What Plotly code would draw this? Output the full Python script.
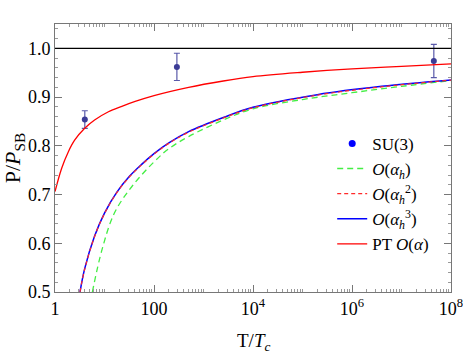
import numpy as np
import plotly.graph_objects as go

# lattice SU(3) points
su3_t = [4.0, 290.0, 4.5e7]
su3_p = [0.854, 0.962, 0.974]
su3_err = [0.018, 0.028, 0.034]

# curves (log10 T/Tc, P/P_SB)
pt_logt = [0.0, 0.135, 0.27, 0.4, 0.6, 0.8, 1.08, 1.35, 1.62, 2.0, 2.7, 3.4, 4.0, 5.0, 6.0, 7.0, 8.0]
pt_p = [0.706, 0.754, 0.788, 0.812, 0.836, 0.853, 0.870, 0.881, 0.891, 0.903, 0.920,
        0.933, 0.942, 0.951, 0.958, 0.963, 0.968]

h3_logt = [0.505, 0.6, 0.8, 1.0, 1.25, 1.5, 1.75, 2.0, 2.3, 2.7, 3.4, 4.0, 5.3, 6.6, 8.0]
h3_p = [0.50, 0.548, 0.615, 0.662, 0.705, 0.737, 0.762, 0.784, 0.806, 0.829, 0.858,
        0.879, 0.905, 0.922, 0.935]

h2_logt = [0.505, 0.6, 0.8, 1.0, 1.25, 1.5, 1.75, 2.0, 2.3, 2.7, 3.4, 4.0, 5.3, 6.6, 8.0]
h2_p = [0.50, 0.547, 0.614, 0.661, 0.704, 0.736, 0.761, 0.783, 0.805, 0.828, 0.857,
        0.878, 0.904, 0.921, 0.935]

h1_logt = [0.755, 0.95, 1.2, 1.55, 2.0, 2.3, 2.7, 3.4, 4.0, 5.0, 6.0, 7.0, 8.0]
h1_p = [0.50, 0.587, 0.662, 0.716, 0.767, 0.794, 0.819, 0.853, 0.876, 0.895, 0.909,
        0.922, 0.934]

xtick_vals = [1, 100, 1e4, 1e6, 1e8]
xtick_text = ["1", "100", "10<sup>4</sup>", "10<sup>6</sup>", "10<sup>8</sup>"]

FONT = "Liberation Serif"

fig = go.Figure()

fig.add_trace(go.Scatter(
    x=su3_t, y=su3_p, mode="markers", showlegend=False,
    marker=dict(color="#3c3c96", size=6),
    error_y=dict(type="data", array=su3_err, color="#5a5aaa", thickness=1.2, width=3),
))
# legend-only entry with the pure blue dot
fig.add_trace(go.Scatter(
    x=[None], y=[None], mode="markers", name="SU(3)", legendrank=1,
    marker=dict(color="#0000ff", size=7),
))
fig.add_trace(go.Scatter(
    x=10 ** np.array(h1_logt), y=h1_p, mode="lines", line_shape="spline",
    name="<i>O</i>(<i>α<sub>h</sub></i>)", legendrank=2,
    line=dict(color="#44ee44", width=1.3, dash="6px,4px"),
))
fig.add_trace(go.Scatter(
    x=10 ** np.array(h3_logt), y=h3_p, mode="lines", line_shape="spline",
    name="<i>O</i>(<i>α<sub>h</sub></i><sup>3</sup>)", legendrank=4,
    line=dict(color="#0000ff", width=1.5),
))
fig.add_trace(go.Scatter(
    x=10 ** np.array(h2_logt), y=h2_p, mode="lines", line_shape="spline",
    name="<i>O</i>(<i>α<sub>h</sub></i><sup>2</sup>)", legendrank=3,
    line=dict(color="#ff2a2a", width=1.2, dash="4px,3px"),
))
fig.add_trace(go.Scatter(
    x=10 ** np.array(pt_logt), y=pt_p, mode="lines", line_shape="spline",
    name="PT <i>O</i>(<i>α</i>)", legendrank=5,
    line=dict(color="#ff0000", width=1.3),
))

fig.add_hline(y=1.0, line=dict(color="black", width=1.2))

# x title as an annotation so it can sit lower, as in the original
fig.add_annotation(
    text="T/<i>T</i><sub><i>c</i></sub>", xref="paper", yref="paper",
    x=0.5, y=-0.185, xanchor="center", yanchor="middle", showarrow=False,
    font=dict(family=FONT, size=19, color="black"),
)

fig.update_layout(
    width=463, height=354,
    margin=dict(l=55, r=12, t=24, b=62, autoexpand=False),
    plot_bgcolor="white", paper_bgcolor="white",
    font=dict(family=FONT, size=18, color="black"),
    legend=dict(
        x=0.70, y=0.62, xanchor="left", yanchor="top",
        bgcolor="rgba(0,0,0,0)", font=dict(size=17),
        itemwidth=30, tracegroupgap=0,
    ),
)
fig.update_xaxes(
    type="log", range=[0, 8], automargin=False, ticklabeloverflow="allow",
    tickvals=xtick_vals, ticktext=xtick_text,
    ticks="inside", ticklen=7, tickcolor="#777",
    minor=dict(dtick="D1", ticks="inside", ticklen=3, tickcolor="#999"),
    showline=True, linecolor="#777", linewidth=1, mirror="allticks",
    showgrid=False, zeroline=False,
)
fig.update_yaxes(
    range=[0.5, 1.05], automargin=False, ticklabeloverflow="allow",
    tickvals=[0.5, 0.6, 0.7, 0.8, 0.9, 1.0],
    ticktext=["0.5", "0.6", "0.7", "0.8", "0.9", "1.0"],
    ticks="inside", ticklen=7, tickcolor="#777",
    minor=dict(dtick=0.02, ticks="inside", ticklen=3, tickcolor="#999"),
    showline=True, linecolor="#777", linewidth=1, mirror="allticks",
    showgrid=False, zeroline=False,
    title=dict(text="P/<i>P</i><sub>SB</sub>", standoff=4),
)

# drop the browser's default body margin so the figure sits at the window corner
fig.write_html(
    "out.html",
    config={"displayModeBar": False},
    post_script="document.body.style.margin = '0';",
)
